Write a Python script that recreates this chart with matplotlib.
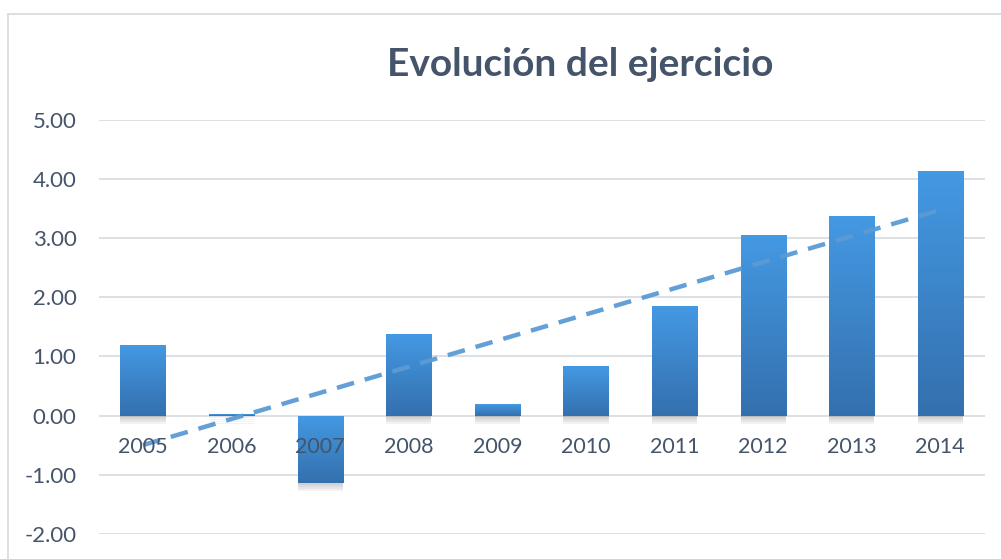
import numpy as np
import matplotlib
matplotlib.use('Agg')
import matplotlib.pyplot as plt
import matplotlib.patheffects as pe
from matplotlib.colors import LinearSegmentedColormap

# datos
years = ['2005', '2006', '2007', '2008', '2009', '2010', '2011', '2012', '2013', '2014']
values = [1.20, 0.02, -1.14, 1.38, 0.19, 0.84, 1.86, 3.05, 3.37, 4.13]
yticks = [-2, -1, 0, 1, 2, 3, 4, 5]

text_col = '#44546a'
grid_col = '#d9dde3'

plt.rcParams['font.family'] = ['Lato', 'DejaVu Sans']

fig = plt.figure(figsize=(10.01, 5.59), dpi=100)
ax = fig.add_axes([0.0986, 0.0447, 0.885, 0.741])

x = np.arange(len(years))
# sombra suave: varias capas desplazadas
shadow = [pe.SimplePatchShadow(offset=(0, -d), shadow_rgbFace='#808080', alpha=0.10)
          for d in (1.5, 3, 4.5, 6)]
bars = ax.bar(x, values, width=0.51, color='#3d85cc', zorder=3,
              path_effects=shadow + [pe.Normal()])

# degradado en cada barra
cmap = LinearSegmentedColormap.from_list('grad', ['#3470ae', '#4499e3'])
grad = np.linspace(0, 1, 256).reshape(-1, 1)
for b in bars:
    x0, y0 = b.get_x(), b.get_y()
    w, h = b.get_width(), b.get_height()
    ylo, yhi = min(y0, y0 + h), max(y0, y0 + h)
    im = ax.imshow(grad, cmap=cmap, origin='lower', aspect='auto',
                   extent=[x0, x0 + w, ylo, yhi], zorder=4)
    im.set_clip_path(b)

# linea de tendencia
coef = np.polyfit(x, values, 1)
ax.plot(x, np.polyval(coef, x), linestyle=(0, (4, 2.5)), color='#5b9bd5',
        linewidth=3.2, alpha=0.95, zorder=5, solid_capstyle='butt')

ax.set_xlim(-0.5, len(years) - 0.5)
ax.set_ylim(-2, 5)
ax.set_yticks(yticks)
ax.set_yticklabels([f'{v:.2f}' for v in yticks], fontsize=16, color=text_col)
ax.set_xticks([])
for xi, lab in zip(x, years):
    ax.text(xi, -0.53, lab, ha='center', va='center', fontsize=15.5, color=text_col, zorder=6)

ax.grid(axis='y', color=grid_col, linewidth=1.3, zorder=0)
ax.tick_params(axis='y', length=0, pad=16)
for s in ax.spines.values():
    s.set_visible(False)

fig.text(0.58, 0.885, 'Evolución del ejercicio', ha='center', va='center',
         fontsize=28, fontweight='bold', color=text_col)

# borde del grafico
fig.add_artist(plt.Line2D([0.008, 0.008], [0, 0.975], color=grid_col, linewidth=1.3))
fig.add_artist(plt.Line2D([0.008, 1.0], [0.975, 0.975], color=grid_col, linewidth=1.3))

fig.savefig('out.png', dpi=100)
